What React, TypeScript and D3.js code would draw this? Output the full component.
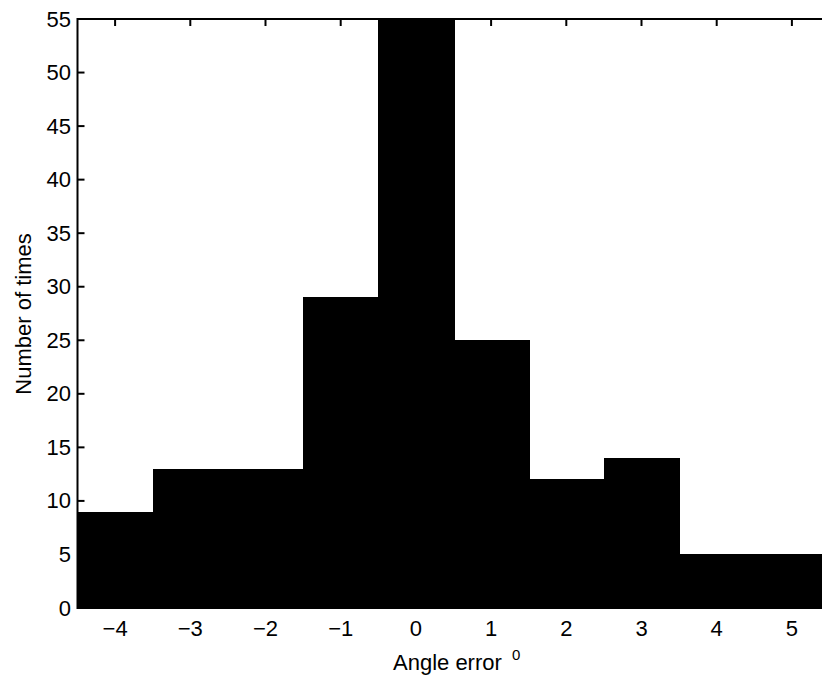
import React from "react";
import * as d3 from "d3";

const binCenters = [-4, -3, -2, -1, 0, 1, 2, 3, 4, 5];
const counts = [9, 13, 13, 29, 55, 25, 12, 14, 5, 5];
const xTicks = [-4, -3, -2, -1, 0, 1, 2, 3, 4, 5];
const yTicks = [0, 5, 10, 15, 20, 25, 30, 35, 40, 45, 50, 55];

const W = 822;
const H = 683;
const FONT = "'Liberation Sans', Arial, Helvetica, sans-serif";
const FS = 22;

export default function App() {
  const x = d3.scaleLinear().domain([-4.5, 5.5]).range([77.5, 829.5]);
  const y = d3.scaleLinear().domain([0, 55]).range([608, 19]);
  const left = x(-4.5);
  const right = x(5.5);
  const top = y(55);
  const bottom = y(0);
  const fmt = (v: number) => (v < 0 ? "\u2212" + Math.abs(v) : String(v));
  return (
    <svg width={W} height={H} style={{ position: "absolute", left: 0, top: 0, background: "#fff" }}>
      <defs>
        <clipPath id="plot">
          <rect x={left} y={top} width={right - left} height={bottom - top} />
        </clipPath>
      </defs>
      <g clipPath="url(#plot)" shapeRendering="crispEdges">
        {binCenters.map((c, i) => (
          <rect
            key={c}
            x={x(c - 0.5)}
            y={y(counts[i])}
            width={x(c + 0.5) - x(c - 0.5) + 1}
            height={bottom - y(counts[i])}
            fill="#000"
          />
        ))}
      </g>
      <rect x={left} y={top} width={right - left} height={bottom - top} fill="none" stroke="#000" strokeWidth={2} />
      {xTicks.map((t) => (
        <g key={"x" + t}>
          <line x1={x(t)} x2={x(t)} y1={top} y2={top + 7} stroke="#000" strokeWidth={2} />
          <line x1={x(t)} x2={x(t)} y1={bottom} y2={bottom - 7} stroke="#000" strokeWidth={2} />
          <text x={x(t)} y={636} textAnchor="middle" fontFamily={FONT} fontSize={FS} fill="#000">
            {fmt(t)}
          </text>
        </g>
      ))}
      {yTicks.map((t) => (
        <g key={"y" + t}>
          <line x1={left} x2={left + 7} y1={y(t)} y2={y(t)} stroke="#000" strokeWidth={2} />
          <line x1={right} x2={right - 7} y1={y(t)} y2={y(t)} stroke="#000" strokeWidth={2} />
          <text x={71} y={y(t) + 7.5} textAnchor="end" fontFamily={FONT} fontSize={FS} fill="#000">
            {fmt(t)}
          </text>
        </g>
      ))}
      <text x={393} y={670} fontFamily={FONT} fontSize={FS} fill="#000">
        Angle error
      </text>
      <text x={512} y={660} fontFamily={FONT} fontSize={15} fill="#000">
        0
      </text>
      <text
        transform={`translate(31, 314) rotate(-90)`}
        textAnchor="middle"
        fontFamily={FONT}
        fontSize={FS}
        fill="#000"
      >
        Number of times
      </text>
    </svg>
  );
}
